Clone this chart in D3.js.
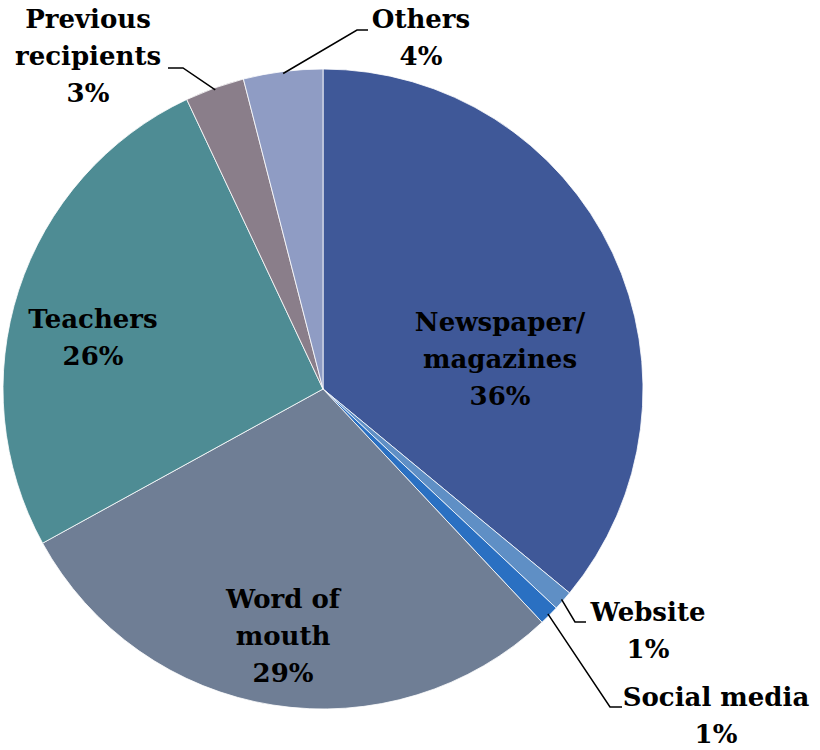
<!DOCTYPE html>
<html>
<head>
<meta charset="utf-8">
<script src="https://cdn.jsdelivr.net/npm/d3@7"></script>
<style>
  body { margin: 0; background: #fff; }
  text { font-family: "DejaVu Serif", "Liberation Serif", serif; font-weight: bold; }
</style>
</head>
<body>
<div id="chart-area"></div>
<script>
var categories = ['Newspaper/ magazines', 'Website', 'Social media', 'Word of mouth', 'Teachers', 'Previous recipients', 'Others'];
var values = [36, 1, 1, 29, 26, 3, 4];
var colors = ['#3f5898', '#5f8fc5', '#2a70c2', '#6f7e95', '#4e8c94', '#8a7e8a', '#8f9cc4'];

// label text lines and where Excel put them
var labelLines = [['Newspaper/', 'magazines'], ['Website'], ['Social media'], ['Word of', 'mouth'], ['Teachers'], ['Previous', 'recipients'], ['Others']];
var labelPos = [[500, 331], [648, 621], [716, 706], [283, 608], [93, 328], [88, 28], [421, 28]];
// leader lines: [elbow x, elbow y, end x] for outside labels
var leaders = { 1: [575, 622, 586], 2: [610, 707, 622], 5: [183, 68, 168], 6: [357, 30, 368] };

var width = 820, height = 750;
var cx = 323, cy = 389, radius = 320;
var lineH = 37;

var svg = d3.select('#chart-area').append('svg')
	.attr('width', width)
	.attr('height', height);

var g = svg.append('g').attr('transform', `translate(${cx}, ${cy})`);

var data = categories.map((c, i) => ({ name: c, value: values[i], i: i }));

var pie = d3.pie().sort(null).value(d => d.value);
var arc = d3.arc().innerRadius(0).outerRadius(radius);
var arcs = pie(data);

g.selectAll('path.slice').data(arcs).enter()
	.append('path')
		.attr('class', 'slice')
		.attr('d', arc)
		.attr('fill', d => colors[d.data.i])
		.attr('stroke', '#fff')
		.attr('stroke-width', 0.8);

// leader lines
arcs.forEach(d => {
	var l = leaders[d.data.i];
	if (!l) return;
	var mid = (d.startAngle + d.endAngle) / 2;
	var r0 = radius - 2;
	var x0 = cx + r0 * Math.sin(mid), y0 = cy - r0 * Math.cos(mid);
	svg.append('path')
		.attr('d', `M${x0},${y0}L${l[0]},${l[1]}L${l[2]},${l[1]}`)
		.attr('fill', 'none')
		.attr('stroke', '#000')
		.attr('stroke-width', 1.5);
});

// labels
arcs.forEach(d => {
	var i = d.data.i;
	var lines = labelLines[i].concat([d3.format('.0f')(d.data.value) + '%']);
	var t = svg.append('text')
		.attr('text-anchor', 'middle')
		.attr('font-size', '26px')
		.attr('fill', '#000');
	lines.forEach((s, k) => {
		t.append('tspan')
			.attr('x', labelPos[i][0])
			.attr('y', labelPos[i][1] + k * lineH)
			.text(s);
	});
});
</script>
</body>
</html>
